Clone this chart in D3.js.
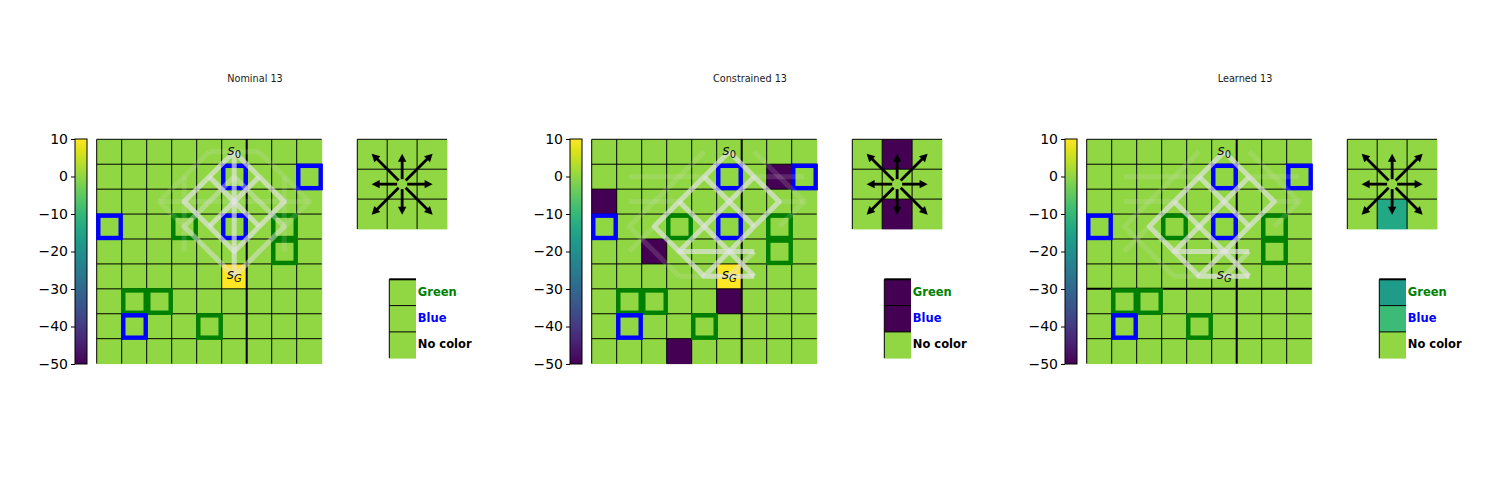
<!DOCTYPE html>
<html><head><meta charset="utf-8">
<script src="https://cdn.jsdelivr.net/npm/d3@7"></script>
<style>body{margin:0;background:#fff}svg{display:block}text{font-family:"DejaVu Sans",sans-serif}</style>
</head><body><svg id="c" width="1500" height="500"></svg>
<script>
// ---------- data ----------
const panelTitles = ["Nominal 13", "Constrained 13", "Learned 13"];
const valueDomain = [-50, 10];
const colorbarTicks = [10, 0, -10, -20, -30, -40, -50];
const gridSize = 9;
const baseValue = 0;
// [col, row, value]
const nominalCells = [[5, 5, 10]];
const constrainedCells = [[5, 5, 10], [0, 2, -50], [7, 1, -50], [2, 4, -50], [5, 6, -50], [3, 8, -50]];
const learnedCells = [];
const blueSquares = [[5, 1], [8, 1], [0, 3], [5, 3], [1, 7]];
const greenSquares = [[3, 3], [7, 3], [7, 4], [1, 6], [2, 6], [4, 7]];
const startCell = [5, 0];
const goalCell = [5, 5];
const nominalActions = [[0, 0, 0], [0, 0, 0], [0, 0, 0]];
const constrainedActions = [[0, -50, 0], [0, 0, 0], [0, -50, 0]];
const learnedActions = [[0, 0, 0], [0, 0, 0], [0, -14, 0]];
const legendLabels = ["Green", "Blue", "No color"];
const legendColors = ["#008000", "#0000ff", "#000000"];
const nominalLegend = [0, 0, 0];
const constrainedLegend = [-50, -50, 0];
const learnedLegend = [-17, -9, 0];
const thickVertical = [[6], [6], [6]];
const thickHorizontal = [[], [], [6]];
const actionDirs = [[-1, -1], [0, -1], [1, -1], [-1, 0], [1, 0], [-1, 1], [0, 1], [1, 1]];
// trajectories as lists of [col,row] cell centres
const nominalStrong = [
  [[5, 0], [5, 1], [5, 2], [5, 3], [5, 4], [5, 5]],
  [[5, 0], [4, 1], [3, 2], [4, 3], [5, 4], [6, 3], [7, 2], [6, 1], [5, 0]],
  [[4, 1], [5, 2], [6, 3]],
  [[6, 1], [5, 2], [4, 3]]
];
const nominalMedium = [
  [[5, 1], [4, 2], [3, 3], [4, 4], [5, 5], [6, 4], [7, 3], [6, 2], [5, 1]]
];
const nominalFaint = [
  [[4, 0], [2, 2], [4, 4], [5, 5]],
  [[6, 0], [8, 2], [6, 4], [5, 5]],
  [[4, 0], [6, 0]],
  [[3, 1], [3, 4]], [[7, 1], [7, 4]],
  [[2, 2], [8, 2]]
];
const constrainedStrong = [
  [[5, 0], [4, 1], [3, 2], [2, 3], [3, 4], [6, 4]],
  [[5, 0], [6, 1], [7, 2], [6, 3], [5, 4], [4, 5], [6, 5]],
  [[3, 2], [4, 3], [5, 4], [6, 5]],
  [[4, 1], [5, 2], [6, 3]],
  [[6, 1], [5, 2], [4, 3], [3, 4], [4, 5]]
];
const constrainedMedium = [
  [[6, 4], [5, 5]]
];
const constrainedFaint = [
  [[1, 1], [4, 1]], [[6, 1], [8, 1]],
  [[4, 0], [1, 3], [3, 5]],
  [[6, 0], [8, 2], [7, 3]],
  [[1, 2], [3, 2]], [[7, 2], [8, 2]],
  [[3, 5], [6, 5]], [[2, 3], [1, 4]]
];
const learnedStrong = constrainedStrong;
const learnedMedium = constrainedMedium;
const learnedFaint = constrainedFaint;

const panelCells = [nominalCells, constrainedCells, learnedCells];
const panelActions = [nominalActions, constrainedActions, learnedActions];
const panelLegend = [nominalLegend, constrainedLegend, learnedLegend];
const panelStrong = [nominalStrong, constrainedStrong, learnedStrong];
const panelMedium = [nominalMedium, constrainedMedium, learnedMedium];
const panelFaint = [nominalFaint, constrainedFaint, learnedFaint];

// ---------- drawing ----------
const svg = d3.select("#c");
const color = d3.scaleSequential(d3.interpolateViridis).domain(valueDomain);
const panelOffset = 495;

const defs = svg.append("defs");
const grad = defs.append("linearGradient").attr("id", "vir").attr("x1", 0).attr("y1", 1).attr("x2", 0).attr("y2", 0);
d3.range(0, 1.0001, 0.05).forEach(t => grad.append("stop").attr("offset", t).attr("stop-color", d3.interpolateViridis(t)));

panelTitles.forEach((title, p) => {
  const ox = p * panelOffset;
  const g = svg.append("g");

  // title
  g.append("text").attr("x", 255 + ox).attr("y", 81.5).attr("text-anchor", "middle")
    .attr("font-size", "9.7px").attr("fill", "#1a1a1a").text(title);

  // colorbar
  const cb = d3.scaleLinear().domain(valueDomain).range([364, 139]);
  g.append("rect").attr("x", 75 + ox).attr("y", 139).attr("width", 12).attr("height", 225)
    .attr("fill", "url(#vir)").attr("stroke", "#000").attr("stroke-width", 1);
  const ax = g.append("g").attr("transform", `translate(${75 + ox},0)`)
    .call(d3.axisLeft(cb).tickValues(colorbarTicks).tickSize(4).tickPadding(3));
  ax.select(".domain").remove();
  ax.selectAll("text").attr("font-size", "14px").attr("fill", "#000").style("font-family", "DejaVu Sans");
  ax.selectAll("line").attr("stroke", "#000");

  // main grid
  const x = d3.scaleLinear().domain([0, gridSize]).range([96.7 + ox, 321.7 + ox]);
  const y = d3.scaleLinear().domain([0, gridSize]).range([139.3, 363.6]);
  const cw = x(1) - x(0), ch = y(1) - y(0);
  const values = [];
  for (let r = 0; r < gridSize; r++) for (let c = 0; c < gridSize; c++) values.push({c, r, v: baseValue});
  panelCells[p].forEach(([c, r, v]) => { values[r * gridSize + c].v = v; });
  g.append("g").selectAll("rect").data(values).join("rect")
    .attr("x", d => x(d.c)).attr("y", d => y(d.r)).attr("width", cw + 0.5).attr("height", ch + 0.5)
    .attr("fill", d => color(d.v));
  // grid lines (top/left and inner)
  const gl = g.append("g").attr("stroke", "#000");
  d3.range(0, gridSize).forEach(i => {
    gl.append("line").attr("x1", x(i)).attr("x2", x(i)).attr("y1", y(0)).attr("y2", y(gridSize))
      .attr("stroke-width", thickVertical[p].includes(i) ? 2 : 1);
    gl.append("line").attr("x1", x(0)).attr("x2", x(gridSize)).attr("y1", y(i)).attr("y2", y(i))
      .attr("stroke-width", thickHorizontal[p].includes(i) ? 2 : 1);
  });
  // squares
  const sq = (arr, col) => g.append("g").selectAll("rect").data(arr).join("rect")
    .attr("x", d => x(d[0]) + 1.6).attr("y", d => y(d[1]) + 1.6)
    .attr("width", cw - 2.6).attr("height", ch - 2.6)
    .attr("fill", "none").attr("stroke", col).attr("stroke-width", 4.4);
  sq(greenSquares, "#008000");
  sq(blueSquares, "#0000ff");
  // trajectories
  const line = d3.line().x(d => x(d[0] + 0.5)).y(d => y(d[1] + 0.5));
  const drawT = (arr, op, w) => g.append("g").selectAll("path").data(arr).join("path")
    .attr("d", line).attr("fill", "none").attr("stroke", "#e3e3e3").attr("stroke-opacity", op)
    .attr("stroke-width", w).attr("stroke-linejoin", "round").attr("stroke-linecap", "butt");
  drawT(panelFaint[p], 0.16, 5);
  drawT(panelMedium[p], 0.4, 5);
  drawT(panelStrong[p], 0.68, 5);
  // labels
  const lab = (cell, sub, dy) => {
    const t = g.append("text").attr("x", x(cell[0] + 0.5)).attr("y", y(cell[1] + 0.5) + dy)
      .attr("text-anchor", "middle").attr("font-size", "14px").attr("fill", "#111");
    t.append("tspan").attr("font-style", "italic").text("s");
    t.append("tspan").attr("font-size", "10px").attr("dy", 3).attr("font-style", sub === "G" ? "italic" : "normal").text(sub);
  };
  lab(startCell, "0", 3);
  lab(goalCell, "G", 3);

  // action grid
  const agx = 357.3 + ox, agy = 139.3, acs = 29.9;
  const acts = [];
  panelActions[p].forEach((row, r) => row.forEach((v, c) => acts.push({r, c, v})));
  g.append("g").selectAll("rect").data(acts).join("rect")
    .attr("x", d => agx + d.c * acs).attr("y", d => agy + d.r * acs)
    .attr("width", acs + 0.4).attr("height", acs + 0.4).attr("fill", d => color(d.v));
  d3.range(0, 3).forEach(i => {
    g.append("line").attr("x1", agx + i * acs).attr("x2", agx + i * acs).attr("y1", agy).attr("y2", agy + 3 * acs).attr("stroke", "#000");
    g.append("line").attr("x1", agx).attr("x2", agx + 3 * acs).attr("y1", agy + i * acs).attr("y2", agy + i * acs).attr("stroke", "#000");
  });
  const cx = agx + 1.5 * acs, cy = agy + 1.5 * acs;
  actionDirs.forEach(([dx, dy]) => {
    const tx = cx + dx * 30.5, ty = cy + dy * 30.5;
    const len = Math.hypot(tx - cx, ty - cy), ux = (tx - cx) / len, uy = (ty - cy) / len;
    const sx = cx + ux * 5, sy = cy + uy * 5;
    const hl = 8, hw = 4.2;
    const bx = tx - ux * hl, by = ty - uy * hl;
    g.append("line").attr("x1", sx).attr("y1", sy).attr("x2", bx + ux).attr("y2", by + uy)
      .attr("stroke", "#000").attr("stroke-width", 2.8);
    g.append("path").attr("d", `M${tx},${ty}L${bx - uy * hw},${by + ux * hw}L${bx + uy * hw},${by - ux * hw}Z`).attr("fill", "#000");
  });

  // legend
  const lx = 389.3 + ox, ly = 279.3, lh = 26.3, lw = 26.7;
  g.append("g").selectAll("rect").data(panelLegend[p]).join("rect")
    .attr("x", lx).attr("y", (d, i) => ly + i * lh).attr("width", lw).attr("height", lh + 0.4).attr("fill", d => color(d));
  g.append("line").attr("x1", lx).attr("x2", lx + lw).attr("y1", ly).attr("y2", ly).attr("stroke", "#000").attr("stroke-width", 2);
  g.append("line").attr("x1", lx).attr("x2", lx).attr("y1", ly).attr("y2", ly + 3 * lh).attr("stroke", "#000");
  [1, 2].forEach(i => g.append("line").attr("x1", lx).attr("x2", lx + lw).attr("y1", ly + i * lh).attr("y2", ly + i * lh).attr("stroke", "#000"));
  g.append("g").selectAll("text").data(legendLabels).join("text")
    .attr("x", lx + 28.5).attr("y", (d, i) => ly + i * lh + 16.5)
    .attr("font-size", "11.5px").attr("font-weight", "bold")
    .attr("fill", (d, i) => legendColors[i]).text(d => d);
});
</script></body></html>
